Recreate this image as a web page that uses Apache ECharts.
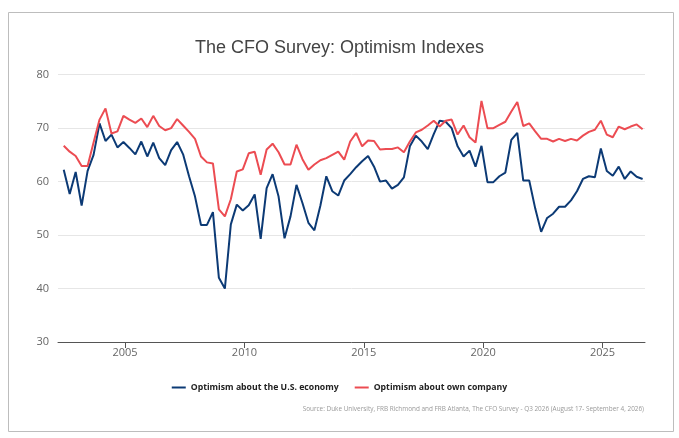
<!DOCTYPE html>
<html lang="en">

<head>
    <meta charset="UTF-8" />
    <title>The CFO Survey: Optimism Indexes</title>
    <script src="https://cdn.jsdelivr.net/npm/echarts@6/dist/echarts.min.js"></script>
    <style>
        body {
            margin: 0;
            background-color: #ffffff;
        }
        #main {
            width: 679px;
            height: 438px;
        }
    </style>
</head>

<body>
    <div id="main"></div>

    <script type="text/javascript">
        // quarterly survey waves, 2002 Q2 .. 2026 Q3
        var firstYear = 2002, firstQuarter = 2, waveCount = 98;
        var quarters = [];
        for (var k = 0; k < waveCount; k++) {
            var q = firstQuarter - 1 + k;
            quarters.push((firstYear + Math.floor(q / 4)) + ' Q' + (q % 4 + 1));
        }

        var yearTicks = [2005, 2010, 2015, 2020, 2025];

        var usEconomy = [
            62.2, 57.7, 61.8, 55.5, 62.0, 65.0, 70.9, 67.6, 68.8, 66.4,
            67.4, 66.3, 65.1, 67.5, 64.7, 67.3, 64.4, 63.1, 65.9, 67.4,
            65.1, 61.0, 57.2, 51.9, 51.9, 54.3, 42.0, 40.0, 52.0, 55.7,
            54.6, 55.6, 57.6, 49.3, 58.8, 61.4, 57.2, 49.4, 53.5, 59.4,
            56.0, 52.3, 50.9, 55.5, 61.0, 58.2, 57.4, 60.2, 61.4, 62.7,
            63.8, 64.8, 62.8, 60.0, 60.2, 58.7, 59.4, 60.8, 66.6, 68.6,
            67.5, 66.1, 68.9, 71.4, 71.2, 70.0, 66.6, 64.7, 65.8, 62.8,
            66.7, 59.9, 59.9, 61.0, 61.7, 67.8, 69.1, 60.2, 60.2, 55.0,
            50.6, 53.2, 54.0, 55.3, 55.3, 56.5, 58.2, 60.5, 61.0, 60.8,
            66.2, 62.0, 61.1, 62.8, 60.5, 61.9, 60.9, 60.5
        ];

        var ownCompany = [
            66.7, 65.6, 64.8, 62.9, 62.9, 67.3, 71.6, 73.7, 69.0, 69.4,
            72.3, 71.6, 71.0, 71.8, 70.2, 72.3, 70.4, 69.6, 70.0, 71.7,
            70.5, 69.3, 68.0, 64.7, 63.6, 63.4, 54.8, 53.5, 56.7, 61.9,
            62.3, 65.3, 65.6, 61.3, 66.0, 67.1, 65.5, 63.2, 63.2, 66.9,
            64.2, 62.2, 63.2, 64.0, 64.4, 65.0, 65.6, 64.1, 67.5, 69.1,
            66.6, 67.7, 67.6, 66.0, 66.1, 66.1, 66.4, 65.5, 67.5, 69.2,
            69.7, 70.5, 71.4, 70.3, 71.4, 71.6, 68.8, 70.5, 68.3, 67.3,
            75.1, 70.0, 70.0, 70.6, 71.2, 73.1, 74.9, 70.4, 70.9, 69.4,
            68.0, 68.0, 67.5, 68.0, 67.6, 68.0, 67.7, 68.6, 69.3, 69.7,
            71.4, 68.8, 68.3, 70.3, 69.8, 70.3, 70.7, 69.8
        ];

        // place each wave on a decimal-year axis (fielded late in the first month of the quarter)
        function toYear(label) {
            var parts = label.split(' Q');
            return Number(parts[0]) + (Number(parts[1]) - 1) / 4 + 0.18;
        }
        function pairs(values) {
            return values.map(function (v, i) {
                return [toYear(quarters[i]), v];
            });
        }

        var myChart = echarts.init(document.getElementById('main'));
        var option = {
            animation: false,
            textStyle: { fontFamily: 'Open Sans' },
            title: [
                {
                    text: 'The CFO Survey: Optimism Indexes',
                    left: 'center',
                    top: 34,
                    textStyle: {
                        fontFamily: 'Liberation Sans',
                        fontSize: 18,
                        fontWeight: 'normal',
                        color: '#444444'
                    }
                },
                {
                    text: 'Source: Duke University, FRB Richmond and FRB Atlanta, The CFO Survey - Q3 2026 (August 17- September 4, 2026)',
                    right: 30,
                    top: 401,
                    textStyle: {
                        fontFamily: 'Open Sans',
                        fontSize: 6.4,
                        fontWeight: 'normal',
                        color: '#999999'
                    }
                }
            ],
            graphic: [
                {
                    type: 'rect',
                    shape: { x: 8.5, y: 12.5, width: 665, height: 419 },
                    style: { fill: 'none', stroke: '#bdbdbd', lineWidth: 1 },
                    silent: true
                }
            ],
            legend: {
                left: 'center',
                top: 378,
                icon: 'rect',
                itemWidth: 14,
                itemHeight: 2,
                itemGap: 16,
                textStyle: {
                    fontFamily: 'Open Sans',
                    fontSize: 8.7,
                    fontWeight: 'bold',
                    color: '#222222'
                }
            },
            grid: {
                left: 58,
                right: 34,
                top: 74.7,
                bottom: 96
            },
            xAxis: {
                type: 'value',
                min: 2002.19,
                max: 2026.78,
                axisLine: { lineStyle: { color: '#555555', width: 1 } },
                axisTick: {
                    customValues: yearTicks,
                    length: 6,
                    lineStyle: { color: '#555555' }
                },
                axisLabel: {
                    customValues: yearTicks,
                    formatter: function (v) { return String(v); },
                    color: '#666666',
                    fontSize: 11,
                    margin: 5
                },
                splitLine: { show: false }
            },
            yAxis: {
                type: 'value',
                min: 30,
                max: 80,
                interval: 10,
                axisLine: { show: false },
                axisTick: { show: false },
                axisLabel: { color: '#666666', fontSize: 11, margin: 9 },
                splitLine: { lineStyle: { color: '#e6e6e6' } }
            },
            series: [
                {
                    name: 'Optimism about the U.S. economy',
                    type: 'line',
                    showSymbol: false,
                    data: pairs(usEconomy),
                    itemStyle: { color: '#0c3a75' },
                    lineStyle: { color: '#0c3a75', width: 2 }
                },
                {
                    name: 'Optimism about own company',
                    type: 'line',
                    showSymbol: false,
                    data: pairs(ownCompany),
                    itemStyle: { color: '#ec4c52' },
                    lineStyle: { color: '#ec4c52', width: 2 }
                }
            ]
        };
        option && myChart.setOption(option);
    </script>
</body>

</html>
